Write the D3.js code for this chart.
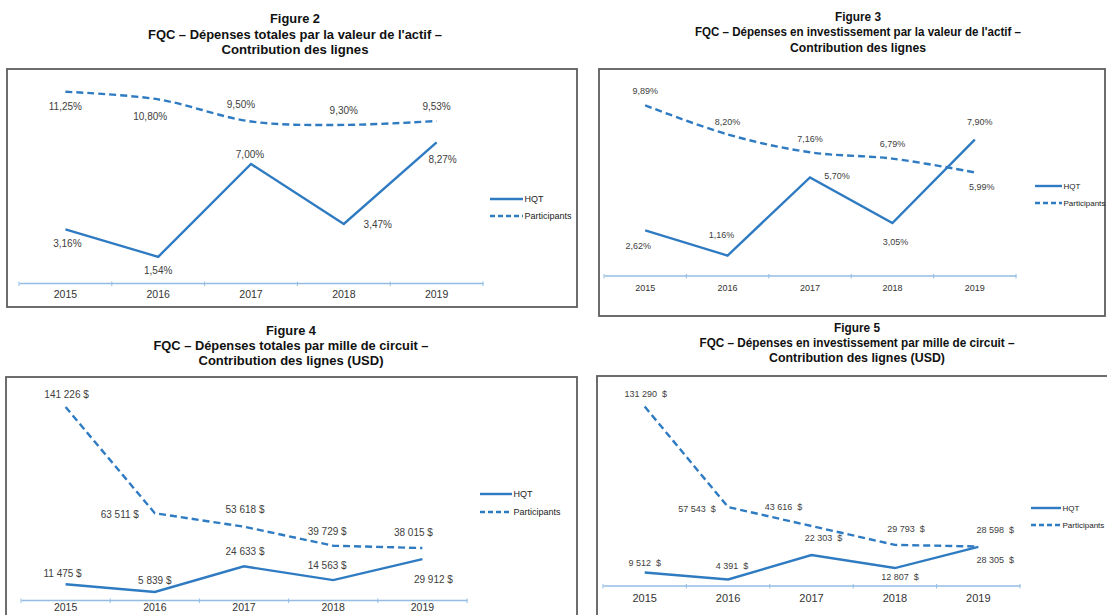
<!DOCTYPE html>
<html lang="fr">
<head>
<meta charset="utf-8">
<title>FQC – Contribution des lignes</title>
<script src="https://cdn.jsdelivr.net/npm/d3@7/dist/d3.min.js"></script>
<style>
  html, body { margin: 0; padding: 0; background: #ffffff; }
  svg { display: block; font-family: "Liberation Sans", Arial, sans-serif; }
</style>
</head>
<body>
<svg id="chart" width="1107" height="615"></svg>
<script>
// ---- Data -----------------------------------------------------------------
const years = ["2015", "2016", "2017", "2018", "2019"];
const seriesNames = ["HQT", "Participants"];

// Figure 2 – total spending per asset value (%)
const fig2Hqt = [3.16, 1.54, 7.00, 3.47, 8.27];
const fig2Participants = [11.25, 10.80, 9.50, 9.30, 9.53];

// Figure 3 – capital spending per asset value (%)
const fig3Hqt = [2.62, 1.16, 5.70, 3.05, 7.90];
const fig3Participants = [9.89, 8.20, 7.16, 6.79, 5.99];

// Figure 4 – total spending per circuit mile (USD)
const fig4Hqt = [11475, 5839, 24633, 14563, 29912];
const fig4Participants = [141226, 63511, 53618, 39729, 38015];

// Figure 5 – capital spending per circuit mile (USD)
const fig5Hqt = [9512, 4391, 22303, 12807, 28305];
const fig5Participants = [131290, 57543, 43616, 29793, 28598];

const fig2Title = ["Figure 2", "FQC – Dépenses totales par la valeur de l'actif –", "Contribution des lignes"];
const fig3Title = ["Figure 3", "FQC – Dépenses en investissement par la valeur de l'actif –", "Contribution des lignes"];
const fig4Title = ["Figure 4", "FQC – Dépenses totales par mille de circuit –", "Contribution des lignes (USD)"];
const fig5Title = ["Figure 5", "FQC – Dépenses en investissement par mille de circuit –", "Contribution des lignes (USD)"];

// ---- Formatting -----------------------------------------------------------
const fr = d3.formatLocale({ decimal: ",", thousands: "\u00a0", grouping: [3], currency: ["", "\u00a0$"] });
const fmtPct = v => fr.format(".2f")(v) + "%";
const fmtUsd = v => fr.format(",.0f")(v) + "\u00a0$";
const fmtUsdWide = v => fr.format(",.0f")(v) + "\u00a0\u00a0$";

// ---- Styles ---------------------------------------------------------------
const BLUE = "#2f7bc2";
const AXIS_BLUE = "#93bde3";
const LABEL = "#404040";

const svg = d3.select("#chart");
svg.append("rect").attr("width", 1107).attr("height", 615).attr("fill", "#fff");

// ---- Panel layouts --------------------------------------------------------
const panels = [
  {
    title: fig2Title, titleX: 295, titleY: [19, 35, 50], titleSize: 12.5, titleW: [50, 294, 147],
    box: [7, 69, 577, 307],
    xRange: [19, 483], yDomain: [0, 12], yRange: [283, 79],
    tickFont: 10.5, tickPad: 8, labelFont: 10, fmt: fmtPct,
    hqt: fig2Hqt, part: fig2Participants, smoothPart: true,
    hqtOff: [[2, 14], [0, 14], [-1, -10], [34, 0], [6, 17]],
    partOff: [[0, 15], [-8, 17], [-10, -17], [0, -14], [0, -14]],
    legend: { x0: 490, x1: 523, y: [199, 216], font: 9 }
  },
  {
    title: fig3Title, titleX: 858, titleY: [17, 32, 48], titleSize: 12, titleW: [46, 326, 136],
    box: [599, 69, 1105, 316],
    xRange: [604, 1016], yDomain: [0, 12], yRange: [275.5, 69],
    tickFont: 9, tickPad: 9, labelFont: 9, fmt: fmtPct,
    hqt: fig3Hqt, part: fig3Participants, smoothPart: true,
    hqtOff: [[-7, 15], [-6, -21], [27, -2], [3, 19], [5, -18]],
    partOff: [[0, -14], [0, -13], [0, -13], [0, -15], [7, 14]],
    legend: { x0: 1035, x1: 1062, y: [186, 203], font: 8 }
  },
  {
    title: fig4Title, titleX: 291, titleY: [331, 346, 361], titleSize: 12.5, titleW: [50, 275, 185],
    box: [6, 377, 577, 640],
    xRange: [21, 467], yDomain: [0, 150000], yRange: [600, 395],
    tickFont: 10.5, tickPad: 4, labelFont: 10, fmt: fmtUsd,
    hqt: fig4Hqt, part: fig4Participants, smoothPart: false,
    hqtOff: [[-3, -11], [0, -12], [1, -15], [-6, -15], [11, 20]],
    partOff: [[1, -12], [-35, 1], [1, -17], [-6, -14], [-9, -16]],
    legend: { x0: 480, x1: 512, y: [494, 512], font: 9 }
  },
  {
    title: fig5Title, titleX: 857, titleY: [328, 343, 358], titleSize: 12, titleW: [46, 315, 176],
    box: [597, 376, 1120, 640],
    xRange: [603, 1020], yDomain: [0, 150000], yRange: [585.5, 381],
    tickFont: 11, tickPad: 9, labelFont: 9, fmt: fmtUsdWide,
    hqt: fig5Hqt, part: fig5Participants, smoothPart: false,
    hqtOff: [[0, -10], [4, -14], [12, -17], [5, 9], [17, 13]],
    partOff: [[1, -13], [-31, 2], [-28, -19], [11, -16], [17, -17]],
    legend: { x0: 1031, x1: 1061, y: [508, 525], font: 8 }
  }
];

function drawPanel(p) {
  const g = svg.append("g");

  // frame
  const [bx0, by0, bx1, by1] = p.box;
  g.append("rect")
    .attr("x", bx0).attr("y", by0)
    .attr("width", bx1 - bx0).attr("height", by1 - by0)
    .attr("fill", "none").attr("stroke", "#5e5e5e").attr("stroke-width", 1.8);

  // title block
  p.title.forEach((t, i) => {
    g.append("text")
      .attr("x", p.titleX).attr("y", p.titleY[i])
      .attr("dy", "0.35em")
      .attr("text-anchor", "middle")
      .attr("font-weight", "bold")
      .attr("font-size", p.titleSize)
      .attr("fill", "#111")
      .attr("textLength", p.titleW[i])
      .attr("lengthAdjust", "spacingAndGlyphs")
      .text(t);
  });

  const x = d3.scaleBand().domain(years).range(p.xRange);
  const y = d3.scaleLinear().domain(p.yDomain).range(p.yRange);
  const cx = yr => x(yr) + x.bandwidth() / 2;
  const axisY = y(0);

  // category axis
  const ax = g.append("g")
    .attr("transform", `translate(0,${axisY})`)
    .call(d3.axisBottom(x).tickSize(0).tickSizeOuter(0).tickPadding(p.tickPad));
  ax.select(".domain").attr("stroke", AXIS_BLUE).attr("stroke-width", 1.5);
  ax.selectAll(".tick text")
    .attr("font-family", "Liberation Sans, Arial, sans-serif")
    .attr("font-size", p.tickFont)
    .attr("fill", "#333");

  // tick marks between categories
  const bounds = years.map(v => x(v)).concat([p.xRange[1]]);
  g.selectAll(".bound").data(bounds).join("line")
    .attr("x1", d => d).attr("x2", d => d)
    .attr("y1", axisY - 1.5).attr("y2", axisY + 3)
    .attr("stroke", AXIS_BLUE).attr("stroke-width", 1);

  const hqtPts = years.map((yr, i) => ({ year: yr, value: p.hqt[i] }));
  const partPts = years.map((yr, i) => ({ year: yr, value: p.part[i] }));

  const straight = d3.line().x(d => cx(d.year)).y(d => y(d.value));
  const smooth = d3.line().x(d => cx(d.year)).y(d => y(d.value)).curve(d3.curveCatmullRom.alpha(0.5));

  g.append("path").datum(partPts)
    .attr("d", p.smoothPart ? smooth : straight)
    .attr("fill", "none").attr("stroke", BLUE)
    .attr("stroke-width", 2.4).attr("stroke-dasharray", "7,4");

  g.append("path").datum(hqtPts)
    .attr("d", straight)
    .attr("fill", "none").attr("stroke", BLUE)
    .attr("stroke-width", 2.4).attr("stroke-linejoin", "miter");

  // value labels
  const addLabels = (pts, offs) => {
    g.selectAll(null).data(pts).join("text")
      .attr("x", (d, i) => cx(d.year) + offs[i][0])
      .attr("y", (d, i) => y(d.value) + offs[i][1])
      .attr("dy", "0.35em")
      .attr("text-anchor", "middle")
      .attr("font-size", p.labelFont)
      .attr("fill", LABEL)
      .text(d => p.fmt(d.value));
  };
  addLabels(partPts, p.partOff);
  addLabels(hqtPts, p.hqtOff);

  // legend
  const L = p.legend;
  seriesNames.forEach((name, i) => {
    g.append("line")
      .attr("x1", L.x0).attr("x2", L.x1)
      .attr("y1", L.y[i]).attr("y2", L.y[i])
      .attr("stroke", BLUE).attr("stroke-width", 2.4)
      .attr("stroke-dasharray", i === 1 ? "5,3" : null);
    g.append("text")
      .attr("x", L.x1 + 1.5).attr("y", L.y[i])
      .attr("dy", "0.35em")
      .attr("font-size", L.font)
      .attr("fill", "#222")
      .text(name);
  });
}

panels.forEach(drawPanel);
</script>
</body>
</html>
